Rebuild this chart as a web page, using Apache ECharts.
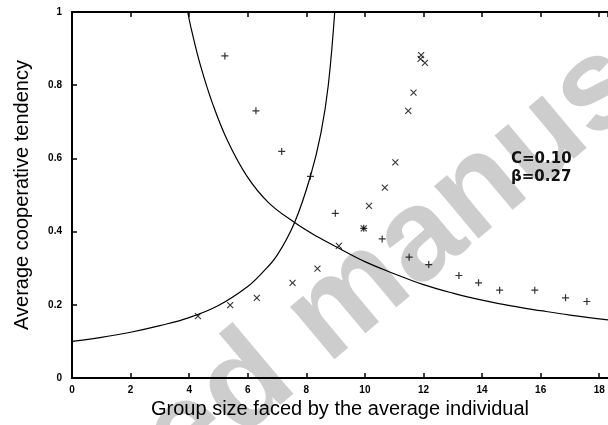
<!DOCTYPE html>
<html>
<head>
<meta charset="utf-8">
<script src="https://cdn.jsdelivr.net/npm/echarts@6/dist/echarts.min.js"></script>
<style>
  html, body { margin: 0; padding: 0; background: #fff; }
  #chart { width: 608px; height: 425px; }
</style>
</head>
<body>
<div id="chart"></div>
<script>
// Simulation results: average group size vs. average cooperative tendency
const plusX  = [5.22, 6.28, 7.16, 8.14, 8.99, 9.96, 10.59, 11.51, 12.18, 13.21, 13.88, 14.60, 15.80, 16.85, 17.58];
const plusY  = [0.880, 0.730, 0.619, 0.551, 0.450, 0.409, 0.380, 0.330, 0.310, 0.280, 0.260, 0.240, 0.240, 0.219, 0.209];
const crossX = [4.30, 5.40, 6.31, 7.53, 8.38, 9.11, 9.96, 10.14, 10.68, 11.04, 11.48, 11.66, 11.92, 11.90, 12.05];
const crossY = [0.169, 0.199, 0.219, 0.260, 0.299, 0.361, 0.409, 0.470, 0.520, 0.589, 0.730, 0.780, 0.882, 0.872, 0.861];

// Theoretical boundary curves (sampled)
const risingX  = [0, 1, 2, 3, 4, 5, 6, 6.5, 7, 7.6, 8.14, 8.5, 8.75, 8.97];
const risingY  = [0.100, 0.111, 0.125, 0.143, 0.165, 0.198, 0.250, 0.288, 0.335, 0.425, 0.551, 0.670, 0.800, 1.000];
const fallingX = [3.95, 4.08, 4.4, 4.82, 5.3, 5.96, 6.7, 7.6, 8.4, 9.1, 10, 11, 12, 13, 14, 15, 16, 17, 18.3];
const fallingY = [1.000, 0.951, 0.850, 0.745, 0.650, 0.553, 0.480, 0.425, 0.385, 0.355, 0.318, 0.285, 0.255, 0.232, 0.213, 0.197, 0.184, 0.172, 0.159];

const xTicks = { min: 0, max: 18.3, interval: 2 };
const yTicks = { min: 0, max: 1, interval: 0.2 };

const paramText = 'C=0.10\nβ=0.27';
const xTitle = 'Group size faced by the average individual';
const yTitle = 'Average cooperative tendency';
const watermark = 'Accepted manuscript';

const zip = (xs, ys) => xs.map((x, i) => [x, ys[i]]);

const chart = echarts.init(document.getElementById('chart'), null, { renderer: 'canvas' });

const axisLabelStyle = { color: '#000', fontSize: 10, fontWeight: 'bold', fontFamily: 'Liberation Sans, Arial, sans-serif' };
const lineStyle = { color: '#000', width: 2 };

chart.setOption({
  animation: false,
  backgroundColor: '#fff',
  grid: { left: 72, right: 0, top: 12, bottom: 47, containLabel: false },
  graphic: [
    {
      type: 'text',
      z: -10,
      x: 335, y: 312,
      rotation: 40 * Math.PI / 180,
      style: {
        text: watermark,
        fill: '#cdcdcd',
        font: 'bold 130px "Liberation Sans", Arial, sans-serif',
        align: 'center',
        verticalAlign: 'middle'
      }
    },
    {
      type: 'text',
      z: 100,
      left: 511, top: 150,
      style: {
        text: paramText,
        fill: '#111',
        font: 'bold 15px "DejaVu Sans", sans-serif',
        lineHeight: 18
      }
    }
  ],
  xAxis: [
    {
      type: 'value', position: 'bottom',
      min: xTicks.min, max: xTicks.max, interval: xTicks.interval,
      name: xTitle, nameLocation: 'middle', nameGap: 20,
      nameTextStyle: { color: '#000', fontSize: 20, fontFamily: 'Liberation Sans, Arial, sans-serif', verticalAlign: 'top' },
      axisLine: { show: true, lineStyle: lineStyle },
      axisTick: { show: true, inside: true, length: 5, lineStyle: { color: '#000', width: 1.5 } },
      axisLabel: Object.assign({ margin: 7 }, axisLabelStyle),
      splitLine: { show: false }
    },
    {
      type: 'value', position: 'top',
      min: xTicks.min, max: xTicks.max, interval: xTicks.interval,
      axisLine: { show: true, lineStyle: lineStyle },
      axisTick: { show: true, inside: true, length: 5, lineStyle: { color: '#000', width: 1.5 } },
      axisLabel: { show: false },
      splitLine: { show: false }
    }
  ],
  yAxis: {
    type: 'value',
    min: yTicks.min, max: yTicks.max, interval: yTicks.interval,
    name: yTitle, nameLocation: 'middle', nameGap: 40, nameRotate: 90,
    nameTextStyle: { color: '#000', fontSize: 20, fontFamily: 'Liberation Sans, Arial, sans-serif' },
    axisLine: { show: true, lineStyle: lineStyle },
    axisTick: { show: true, inside: true, length: 5, lineStyle: { color: '#000', width: 1.5 } },
    axisLabel: Object.assign({ margin: 10 }, axisLabelStyle),
    splitLine: { show: false }
  },
  series: [
    {
      type: 'line', data: zip(risingX, risingY), smooth: 0.4,
      showSymbol: false, clip: true,
      lineStyle: { color: '#000', width: 1.2 }
    },
    {
      type: 'line', data: zip(fallingX, fallingY), smooth: 0.4,
      showSymbol: false, clip: true,
      lineStyle: { color: '#000', width: 1.2 }
    },
    {
      type: 'scatter', data: zip(plusX, plusY),
      symbol: 'path://M5,0V10M0,5H10', symbolSize: 7,
      itemStyle: { color: 'none', borderColor: '#000', borderWidth: 1.2 }
    },
    {
      type: 'scatter', data: zip(crossX, crossY),
      symbol: 'path://M0,0L10,10M10,0L0,10', symbolSize: 6,
      itemStyle: { color: 'none', borderColor: '#000', borderWidth: 1.1 }
    }
  ]
});
</script>
</body>
</html>
